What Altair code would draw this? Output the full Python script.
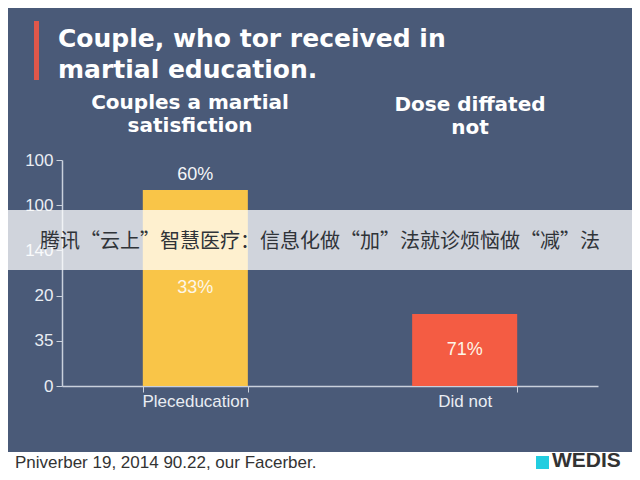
import altair as alt
import pandas as pd

# ---- data ----
categories = ["Pleceducation", "Did not"]
values = [86.7, 31.9]
inner_labels = ["33%", "71%"]
top_labels = ["60%", ""]
bar_colors = ["#f9c548", "#f45c43"]

y_tick_values = [0, 20, 40, 60, 80, 100]
y_tick_labels = ["0", "35", "20", "140", "100", "100"]

title_text = "Couple, who tor received in\nmartial education."
header_left = "Couples a martial\nsatisfiction"
header_right = "Dose diffated\nnot"
overlay_text = "腾讯“云上”智慧医疗：信息化做“加”法就诊烦恼做“减”法"
footer_text = "Pniverber 19, 2014 90.22, our Facerber."
brand_text = "WEDIS"

BG = "#4a5a78"
LIGHT = "#e9edf3"

df = pd.DataFrame({
    "cat": categories,
    "val": values,
    "mid": [v / 2 for v in values],
    "inner": inner_labels,
    "top": top_labels,
    "color": bar_colors,
})

label_expr = "{" + ",".join(f"'{v}':'{l}'" for v, l in zip(y_tick_values, y_tick_labels)) + "}[datum.value]"

x_enc = alt.X("cat:N", sort=categories, title=None,
              scale=alt.Scale(paddingInner=0.61, paddingOuter=0.3),
              axis=alt.Axis(labelAngle=0, labelFontSize=17, labelColor=LIGHT,
                            labelFont="Liberation Sans", labelPadding=1,
                            tickBand="extent", tickSize=6, tickColor="#c9d0dc",
                            domainColor="#c9d0dc", domainWidth=1.5, grid=False))

bars = alt.Chart(df).mark_bar().encode(
    x=x_enc,
    y=alt.Y("val:Q", title=None,
            scale=alt.Scale(domain=[0, 100], nice=False),
            axis=alt.Axis(values=y_tick_values, labelExpr=label_expr,
                          labelFontSize=17, labelColor=LIGHT, labelFont="Liberation Sans",
                          labelPadding=3, tickSize=6, tickColor="#c9d0dc",
                          domainColor="#c9d0dc", domainWidth=1.5, grid=False)),
    color=alt.Color("color:N", scale=None),
)

inner = alt.Chart(df).mark_text(fontSize=18, font="Liberation Sans", color="#fdf6e8",
                                baseline="middle").encode(
    x=alt.X("cat:N", sort=categories), y="mid:Q", text="inner:N")

top = alt.Chart(df).mark_text(fontSize=18, font="Liberation Sans", color="#f4f6f9",
                              baseline="middle", dy=-15).encode(
    x=alt.X("cat:N", sort=categories), y="val:Q", text="top:N")

one = pd.DataFrame({"k": [0]})

def deco_rect(x, x2, y, y2, color, opacity=1.0):
    return alt.Chart(one).mark_rect(color=color, opacity=opacity).encode(
        x=alt.value(x), x2=alt.value(x2), y=alt.value(y), y2=alt.value(y2))

def deco_text(txt, x, y, **kw):
    return alt.Chart(one).mark_text(text=txt, lineBreak="\n", **kw).encode(
        x=alt.value(x), y=alt.value(y))

title_bar = deco_rect(-28, -23, -139, -80, "#e0574a")
title = deco_text(title_text, -4, -113, fontSize=25, font="DejaVu Sans", fontWeight="bold",
                  color="#ffffff", align="left", baseline="alphabetic", lineHeight=31)
h_left = deco_text(header_left, 128, -51, fontSize=20, font="DejaVu Sans", fontWeight="bold",
                   color="#ffffff", align="center", baseline="alphabetic", lineHeight=23)
h_right = deco_text(header_right, 408, -49, fontSize=20, font="DejaVu Sans", fontWeight="bold",
                    color="#ffffff", align="center", baseline="alphabetic", lineHeight=23)

band = deco_rect(-62, 578, 50, 110, "#ffffff", 0.74)
band_text = deco_text(overlay_text, -22, 82, fontSize=20, font="Noto Sans CJK SC",
                      color="#2f3338", align="left", baseline="middle")

footer = deco_rect(-62, 578, 292, 330, "#ffffff")
footer_txt = deco_text(footer_text, -47, 308, fontSize=17, font="Liberation Sans",
                       color="#333333", align="left", baseline="alphabetic")
brand_sq = deco_rect(474, 487, 296, 309, "#22cde0")
brand = deco_text(brand_text, 490, 307, fontSize=21, font="Liberation Sans", fontWeight="bold",
                  color="#333333", align="left", baseline="alphabetic")

chart = alt.layer(
    bars, inner, top, title_bar, title, h_left, h_right,
    band, band_text, footer, footer_txt, brand_sq, brand
).properties(
    width=536, height=226,
    autosize=alt.AutoSizeParams(type="none"),
    padding={"left": 54, "top": 152, "right": 34, "bottom": 86},
    background=BG,
).configure_view(stroke=None)

chart.save("out.html", embed_options={"renderer": "svg", "actions": False})
